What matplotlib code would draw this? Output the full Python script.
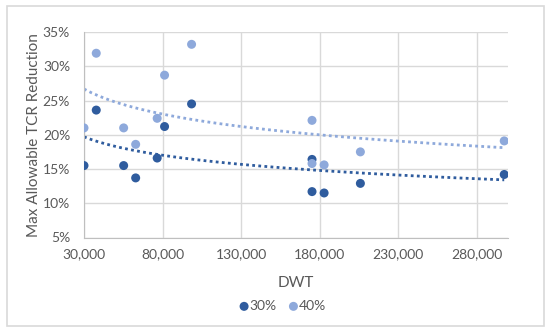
import numpy as np
import matplotlib
matplotlib.use('Agg')
import matplotlib.pyplot as plt
from matplotlib.patches import Rectangle
from matplotlib.ticker import FuncFormatter

plt.rcParams['font.family'] = ['Lato', 'DejaVu Sans']

DARK = '#2F5C9E'
LIGHT = '#8EA9DB'
TEXT = '#595959'
GRID = '#D9D9D9'

# Data
dwt = [30000, 37800, 55250, 62900, 76600, 81300, 98500, 175200, 175200, 182900, 206000, 297600]
red_30 = [15.5, 23.6, 15.5, 13.7, 16.6, 21.2, 24.5, 16.4, 11.7, 11.5, 12.9, 14.2]
dwt_40 = [30000, 37800, 55250, 62900, 76600, 81300, 98500, 175200, 175200, 182900, 206000, 297600]
red_40 = [21.0, 31.9, 21.0, 18.6, 22.4, 28.7, 33.2, 22.1, 15.8, 15.6, 17.5, 19.1]

fig = plt.figure(figsize=(5.5, 3.33), dpi=100)
fig.patches.append(Rectangle((7/550, 1 - 326/333), 537/550, 320/333, transform=fig.transFigure,
                             fill=False, edgecolor='#D9D9D9', linewidth=1.2))

ax = fig.add_axes([84/550, 1 - 237.5/333, 424/550, 205.5/333])

# log trendlines (Excel style)
xs = np.linspace(30000, 297600, 60)
for x, y, c in [(dwt, red_30, DARK), (dwt_40, red_40, LIGHT)]:
    a, b = np.polyfit(np.log(x), y, 1)
    ax.plot(xs, a * np.log(xs) + b, linestyle=(0, (1, 1.2)), color=c, linewidth=2, zorder=2)

ax.scatter(dwt, red_30, s=42, color=DARK, zorder=3, label='30%', edgecolors='none')
ax.scatter(dwt_40, red_40, s=42, color=LIGHT, zorder=4, label='40%', edgecolors='none')

ax.set_xlim(30000, 300000)
ax.set_ylim(5, 35)
ax.set_xticks([30000, 80000, 130000, 180000, 230000, 280000])
ax.set_yticks([5, 10, 15, 20, 25, 30, 35])
ax.xaxis.set_major_formatter(FuncFormatter(lambda v, p: f'{int(v):,}'))
ax.yaxis.set_major_formatter(FuncFormatter(lambda v, p: f'{int(v)}%'))
ax.grid(True, color=GRID, linewidth=1)
ax.set_axisbelow(True)
for s in ['top', 'right']:
    ax.spines[s].set_visible(False)
for s in ['left', 'bottom']:
    ax.spines[s].set_color('#BFBFBF')
ax.tick_params(axis='x', length=0, colors=TEXT, labelsize=10, pad=8)
ax.tick_params(axis='y', length=0, colors=TEXT, labelsize=10, pad=10)

ax.set_xlabel('DWT', color=TEXT, fontsize=11, labelpad=11)
ax.set_ylabel('Max Allowable TCR Reduction', color=TEXT, fontsize=11, labelpad=1)

ax.legend(loc='center', bbox_to_anchor=(281/550, 1 - 306/333), bbox_transform=fig.transFigure,
          ncol=2, frameon=False, fontsize=10, labelcolor=TEXT, handletextpad=-0.2,
          columnspacing=0.6, handlelength=1.2, markerscale=1.0)

fig.savefig('out.png', dpi=100)
